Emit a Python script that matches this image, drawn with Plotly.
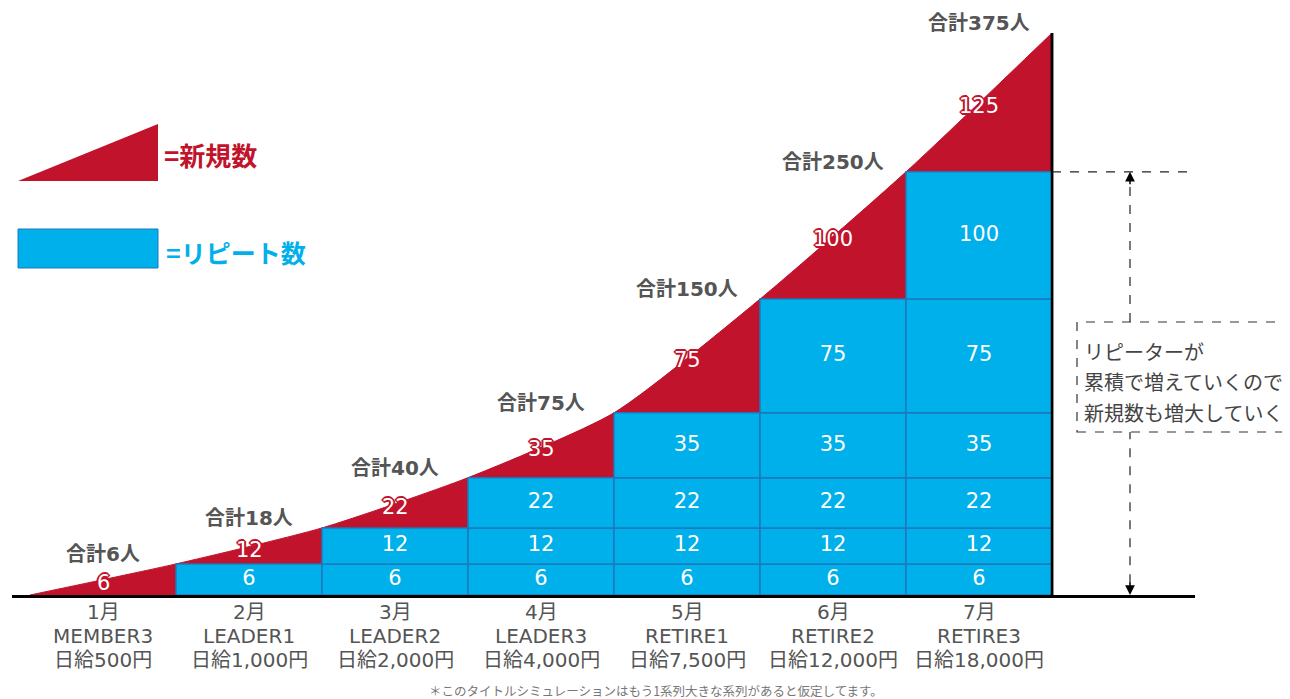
import plotly.graph_objects as go

# ---------------- data ----------------
months = ["1月", "2月", "3月", "4月", "5月", "6月", "7月"]
ranks = ["MEMBER3", "LEADER1", "LEADER2", "LEADER3", "RETIRE1", "RETIRE2", "RETIRE3"]
wages = ["日給500円", "日給1,000円", "日給2,000円", "日給4,000円",
         "日給7,500円", "日給12,000円", "日給18,000円"]
new_counts = [6, 12, 22, 35, 75, 100, 125]      # 新規数 per month
totals = [6, 18, 40, 75, 150, 250, 375]         # 合計 per month
note_lines = ["リピーターが", "累積で増えていくので", "新規数も増大していく"]
footnote = "＊このタイトルシミュレーションはもう1系列大きな系列があると仮定してます。"

# ---------------- style ----------------
RED = "#c1132b"
BLUE = "#00b0ea"
BLUE_EDGE = "#1c78bd"
GRAY = "#555555"
FONT = "Noto Sans CJK JP"
NUMFONT = "DejaVu Sans, Noto Sans CJK JP"

W, H = 1290, 699
OFF = 8                                    # page body margin
PL, PR, PT, PB = 12, 1195, 8, 595          # plot area in page pixels
COL0, COLW = 30, 146                        # column geometry in page pixels


def sy(v):
    """display scale of the infographic (compressed)"""
    return v ** 0.7


YMAX = sy(totals[-1]) * (PB - PT) / 562.0
XMIN = (PL - COL0) / COLW
XMAX = (PR - COL0) / COLW


def px(xp):
    return (xp - PL) / (PR - PL)


def py(yp):
    return (PB - yp) / (PB - PT)


def ypaper(v):
    return sy(v) / YMAX


n = len(months)
fig = go.Figure()

# red "new" area under the cumulative curve
curve_x = list(range(n + 1))
curve_y = [0] + [sy(t) for t in totals]
fig.add_trace(go.Scatter(x=curve_x, y=curve_y, mode="lines",
                         line=dict(color=RED, width=1, shape="spline", smoothing=0.6),
                         fill="tozeroy", fillcolor=RED, hoverinfo="skip",
                         showlegend=False))
fig.add_trace(go.Scatter(x=[n, n], y=[0, sy(totals[-1])], mode="lines",
                         line=dict(color="black", width=2.5), hoverinfo="skip",
                         showlegend=False))

# blue repeat blocks (overlay axes so they sit above the red area)
for j in range(n - 1):
    xs = [k + 0.5 for k in range(j + 1, n)]
    bottom = sy(totals[j - 1]) if j > 0 else 0
    top = sy(totals[j])
    fig.add_trace(go.Bar(x=xs, y=[top - bottom] * len(xs), base=[bottom] * len(xs),
                         width=1, marker=dict(color=BLUE, line=dict(color=BLUE_EDGE, width=1.5)),
                         xaxis="x2", yaxis="y2", hoverinfo="skip", showlegend=False))
    fig.add_trace(go.Scatter(x=xs, y=[(top + bottom) / 2] * len(xs), mode="text",
                             text=[str(new_counts[j])] * len(xs),
                             textfont=dict(color="white", size=21, family=NUMFONT),
                             xaxis="x2", yaxis="y2", hoverinfo="skip", showlegend=False))
fig.add_trace(go.Scatter(x=[n, n], y=[0, sy(totals[-1])], mode="lines",
                         line=dict(color="black", width=2.5), hoverinfo="skip",
                         xaxis="x2", yaxis="y2", showlegend=False))

annotations = []
shadow = ("1px 1px 0 %s, -1px -1px 0 %s, 1px -1px 0 %s, -1px 1px 0 %s, "
          "0 2px 0 %s, 0 -2px 0 %s, 2px 0 0 %s, -2px 0 0 %s") % ((RED,) * 8)
for k in range(n):
    prev = sy(totals[k - 1]) if k > 0 else 0
    cur = sy(totals[k])
    annotations.append(dict(x=k + 0.5, y=(prev + cur) / 2, xref="x", yref="y",
                            xanchor="center", yanchor="middle",
                            text=str(new_counts[k]), showarrow=False, yshift=-4,
                            font=dict(color="white", size=21, family=NUMFONT, shadow=shadow)))
    annotations.append(dict(x=k + 0.5, y=cur, xref="x", yref="y",
                            xanchor="center", yanchor="middle",
                            text="<b>合計%d人</b>" % totals[k], showarrow=False,
                            yshift=10, font=dict(color=GRAY, size=20, family=NUMFONT)))
    # category labels (three lines)
    for i, line in enumerate([months[k], ranks[k], wages[k]]):
        annotations.append(dict(x=k + 0.5, y=py(612 + 24 * i), xref="x", yref="paper",
                                xanchor="center", yanchor="middle", text=line,
                                showarrow=False,
                                font=dict(color=GRAY, size=20, family=NUMFONT)))

# legend
shapes = []
shapes.append(dict(type="path", xref="paper", yref="paper",
                   path="M %f,%f L %f,%f L %f,%f Z" % (px(18), py(181), px(158), py(124), px(158), py(181)),
                   fillcolor=RED, line=dict(width=0)))
shapes.append(dict(type="rect", xref="paper", yref="paper",
                   x0=px(18), x1=px(158), y0=py(268), y1=py(229),
                   fillcolor=BLUE, line=dict(color=BLUE_EDGE, width=1)))
annotations.append(dict(x=px(162), y=py(155), xref="paper", yref="paper",
                        xanchor="left", yanchor="middle",
                        text="<b>=新規数</b>", showarrow=False,
                        font=dict(color=RED, size=26, family=FONT)))
annotations.append(dict(x=px(164), y=py(252), xref="paper", yref="paper",
                        xanchor="left", yanchor="middle",
                        text="<b>=リピート数</b>", showarrow=False,
                        font=dict(color=BLUE, size=25, family=FONT)))

# right-side explanation
arrow_x = (1130 - COL0) / COLW
shapes.append(dict(type="line", xref="x", yref="y", x0=n, x1=(1210 - COL0) / COLW,
                   y0=sy(totals[-2]), y1=sy(totals[-2]),
                   line=dict(color="#222", width=1.3, dash="dash")))
shapes.append(dict(type="line", xref="x", yref="paper", x0=arrow_x, x1=arrow_x,
                   y0=py(322), y1=ypaper(totals[-2]) - 0.02,
                   line=dict(color="#333", width=1.3, dash="dash")))
shapes.append(dict(type="line", xref="x", yref="paper", x0=arrow_x, x1=arrow_x,
                   y0=0.02, y1=py(432),
                   line=dict(color="#333", width=1.3, dash="dash")))
shapes.append(dict(type="rect", xref="paper", yref="paper",
                   x0=px(1077), x1=px(1310), y0=py(432), y1=py(322),
                   fillcolor="white", line=dict(color="#333", width=1.2, dash="dash")))
annotations.append(dict(x=arrow_x, y=sy(totals[-2]), xref="x", yref="y", ax=0, ay=14,
                        text="", showarrow=True,
                        arrowhead=2, arrowsize=1.3, arrowwidth=1.5, arrowcolor="black"))
annotations.append(dict(x=arrow_x, y=0, xref="x", yref="y", ax=0, ay=-14,
                        text="", showarrow=True,
                        arrowhead=2, arrowsize=1.3, arrowwidth=1.5, arrowcolor="black"))
for i, line in enumerate(note_lines):
    annotations.append(dict(x=px(1082), y=py(351 + 30.5 * i), xref="paper", yref="paper",
                            xanchor="left", yanchor="middle", text=line, showarrow=False,
                            font=dict(color="#444", size=20, family=FONT)))

annotations.append(dict(x=px(656), y=py(690), xref="paper", yref="paper",
                        xanchor="center", yanchor="middle",
                        text=footnote, showarrow=False,
                        font=dict(color="#777", size=12.5, family=FONT)))

fig.update_layout(
    width=W - OFF, height=H - OFF,
    margin=dict(l=PL - OFF, r=W - PR, t=PT - OFF, b=H - PB, pad=0),
    paper_bgcolor="white", plot_bgcolor="white",
    showlegend=False, barmode="overlay",
    xaxis=dict(range=[XMIN, XMAX], showgrid=False, zeroline=False,
               showticklabels=False, ticks="",
               showline=True, linecolor="black", linewidth=2.5, fixedrange=True),
    yaxis=dict(range=[0, YMAX], visible=False, fixedrange=True),
    xaxis2=dict(range=[XMIN, XMAX], overlaying="x", visible=False, fixedrange=True),
    yaxis2=dict(range=[0, YMAX], overlaying="y", visible=False, fixedrange=True),
    shapes=shapes, annotations=annotations,
    font=dict(family=FONT),
)

fig.write_html("out.html")
